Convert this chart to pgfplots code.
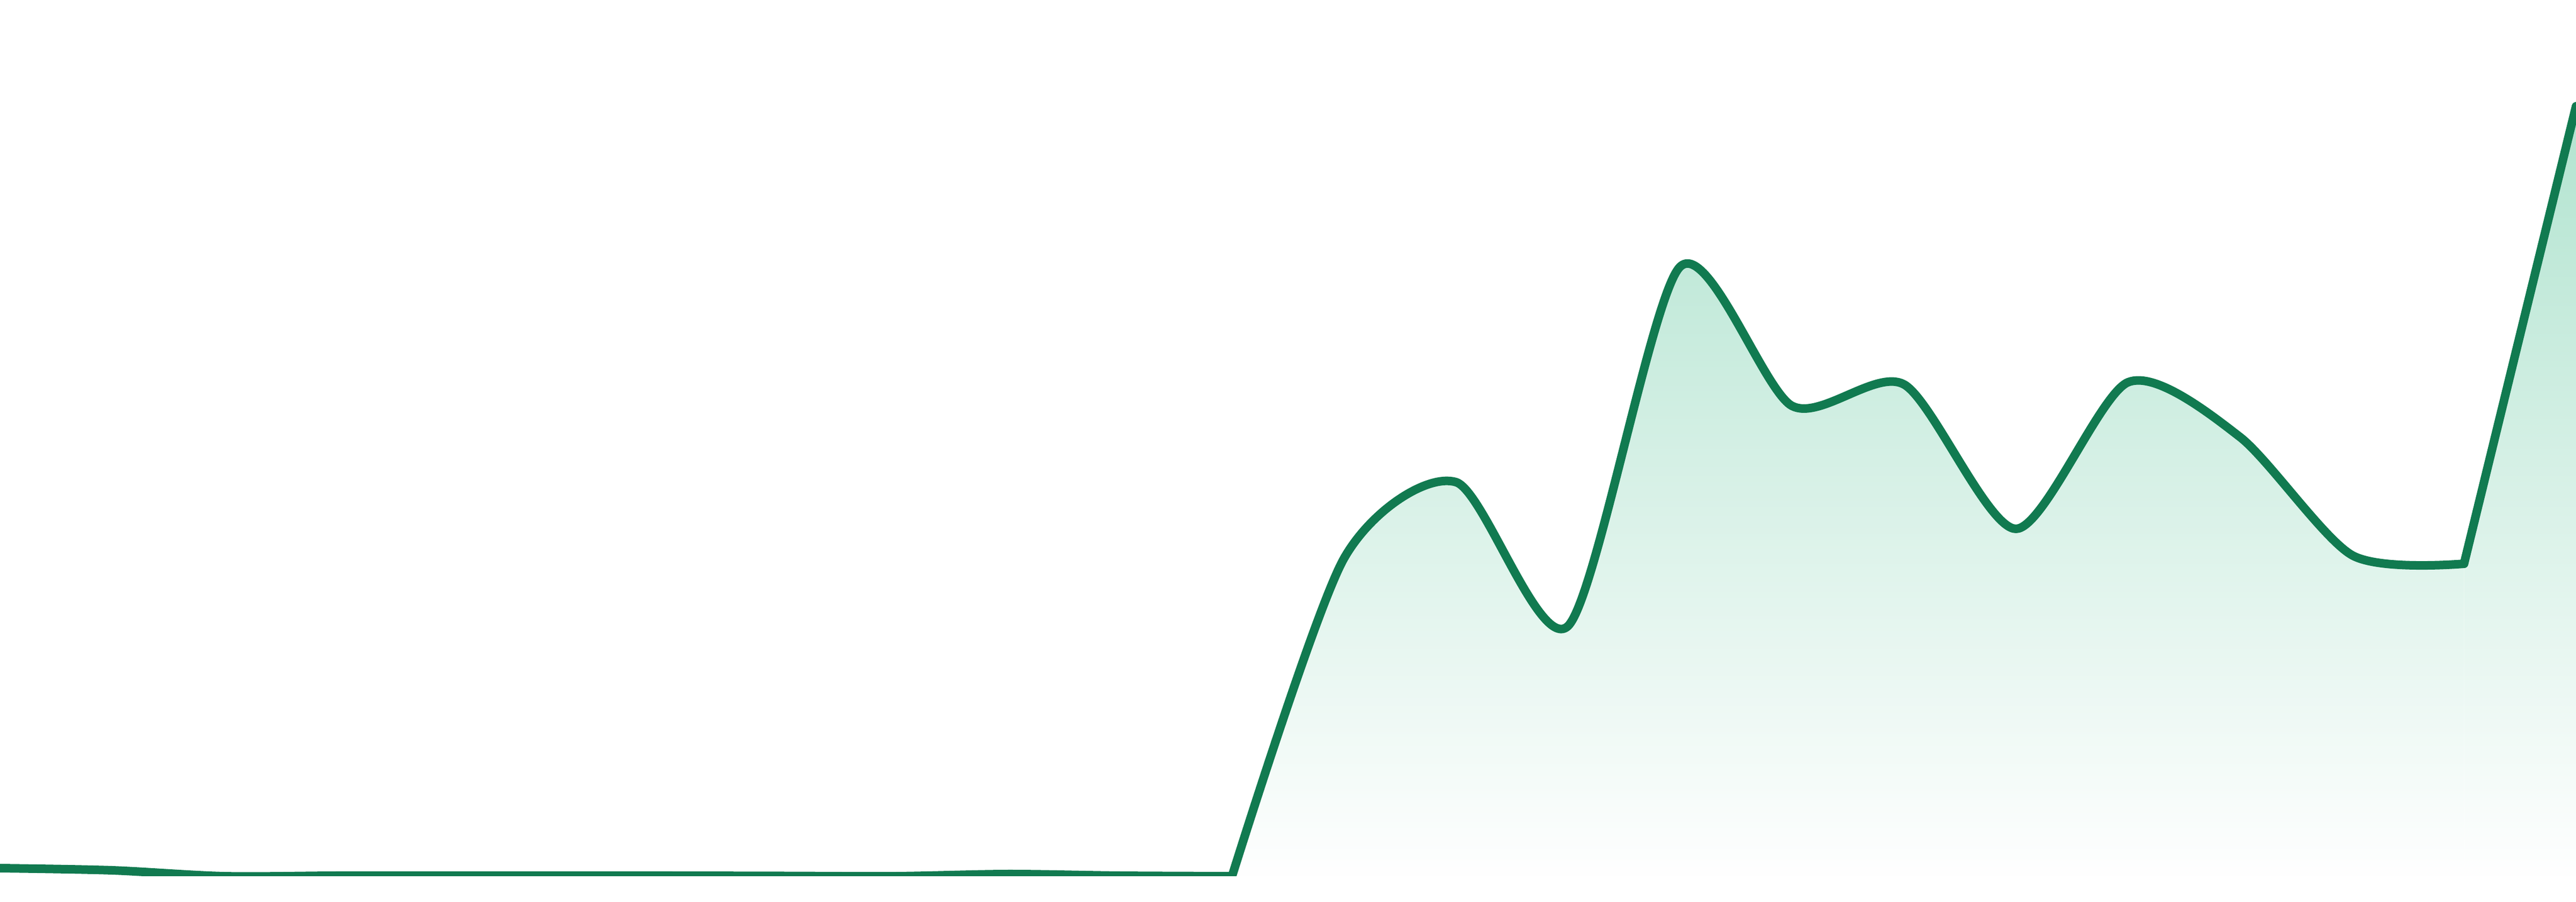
\documentclass[border=0pt]{standalone}
\usepackage{pgfplots}
\pgfplotsset{compat=1.18}
\usetikzlibrary{fadings}
\definecolor{lineGreen}{RGB}{17,122,80}
\definecolor{fillTop}{RGB}{178,228,208}

% values are heights above the baseline, in reference pixels
\begin{document}
\begin{tikzpicture}
\path[use as bounding box] (0,-0.48) rectangle (48,16.32);
\begin{axis}[
    at={(0,0)}, anchor=south west,
    scale only axis,
    width=48cm, height=16.32cm,
    xmin=0, xmax=23,
    ymin=0, ymax=1632,
    hide axis,
    clip=true,
    every axis plot/.append style={line cap=round, line join=round},
]
% area under the curve, solid, then faded to white towards the bottom
\addplot[draw=none, fill=fillTop, smooth, tension=0.45]
  coordinates {(11,0) (12,592) (13,734) (14,466) (15,1135) (16,876) (17,916)
               (18,647) (19,920) (20,818) (21,598) (22,582)} \closedcycle;
\addplot[draw=none, fill=fillTop]
  coordinates {(22,582) (23,1434)} \closedcycle;
\fill[white, path fading=north] (axis cs:0,0) rectangle (axis cs:23,1434);

% the line
\addplot[lineGreen, line width=0.16cm, smooth]
  coordinates {(0,15) (1,11) (2,0) (3,1) (4,1) (5,1) (6,1) (7,0.5) (8,0) (9,4) (10,1) (11,0)};
\addplot[lineGreen, line width=0.16cm, smooth, tension=0.45]
  coordinates {(11,0) (12,592) (13,734) (14,466) (15,1135) (16,876) (17,916)
               (18,647) (19,920) (20,818) (21,598) (22,582)};
\addplot[lineGreen, line width=0.16cm]
  coordinates {(22,582) (23,1434)};
\end{axis}
\end{tikzpicture}
\end{document}
